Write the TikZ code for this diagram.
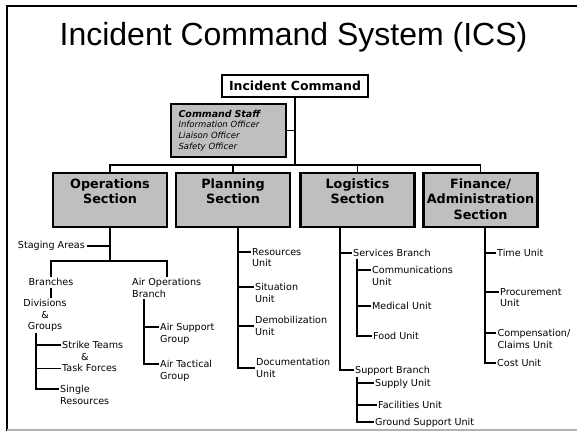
\documentclass[tikz,border=0pt]{standalone}
\usepackage{fontspec}
\setmainfont{Liberation Sans}
\newfontfamily\unitfont{DejaVu Sans}
\colorlet{stipple}{black!25}
\newcommand{\sectitle}[1]{\parbox[t][42pt][t]{108pt}{\centering #1}}

\begin{document}
\begin{tikzpicture}[x=1pt,y=-1pt,
  every node/.style={inner sep=1.5pt},
  heading/.style={font=\fontsize{32}{36}\selectfont},
  icbox/.style={draw,line width=1.4pt,fill=white,minimum width=146pt,minimum height=22pt,inner sep=0pt,
    font=\unitfont\bfseries\fontsize{12.5}{14}\selectfont},
  staffbox/.style={draw,line width=2.4pt,fill=stipple,text width=100pt,align=left,inner xsep=7.5pt,
    minimum height=53pt,font=\unitfont\itshape\fontsize{8.5}{10.7}\selectfont},
  secbox/.style={draw,line width=2.6pt,fill=stipple,inner xsep=3pt,inner ysep=6pt,
    font=\unitfont\bfseries\fontsize{12.8}{15.2}\selectfont},
  unitlabel/.style={font=\unitfont\fontsize{9.6}{11.5}\selectfont,align=left,anchor=north west},
  link/.style={line width=1.7pt}]
\useasboundingbox (0,0) rectangle (577,434);
\draw [line width=1.3pt] (577,6) -- (7,6) -- (7,431);
\draw [line width=1.3pt,black!30] (7,430) -- (577,430);

\node [heading,anchor=base] (title) at (293.5,45) {Incident Command System (ICS)};

\node [icbox] (ic) at (295,86) {Incident Command};
\node [staffbox] (staff) at (228.5,130.5) {{\bfseries\fontsize{9.5}{10.7}\selectfont Command Staff}\\Information Officer\\Liaison Officer\\Safety Officer};

\node [secbox] (ops) at (110,200) {\sectitle{Operations\\Section}};
\node [secbox] (plan) at (233,200) {\sectitle{Planning\\Section}};
\node [secbox] (log) at (357.5,200) {\sectitle{Logistics\\Section}};
\node [secbox] (fin) at (480.5,200) {\sectitle{Finance/\\Administration\\Section}};

\node [unitlabel,anchor=north east] (staging) at (86.5,239.7) {Staging Areas};
\node [unitlabel,anchor=north,align=center] (branches) at (51,276.7) {Branches};
\node [unitlabel,anchor=north,align=center] (divisions) at (45,297.7) {Divisions\\\&\\Groups};
\node [unitlabel] (strike) at (60.5,339.7) {Strike Teams\\\hspace*{19pt}\&\\Task Forces};
\node [unitlabel] (single) at (58.5,383.7) {Single\\Resources};
\node [unitlabel] (airops) at (130.5,276.7) {Air Operations\\Branch};
\node [unitlabel] (airsup) at (158.5,321.7) {Air Support\\Group};
\node [unitlabel] (airtac) at (158.5,358.7) {Air Tactical\\Group};

\node [unitlabel] (res) at (250.5,246.7) {Resources\\Unit};
\node [unitlabel] (sit) at (253.5,281.7) {Situation\\Unit};
\node [unitlabel] (demob) at (253.5,314.7) {Demobilization\\Unit};
\node [unitlabel] (doc) at (254.5,356.7) {Documentation\\Unit};

\node [unitlabel] (svc) at (351.5,247.7) {Services Branch};
\node [unitlabel] (comm) at (370.5,264.7) {Communications\\Unit};
\node [unitlabel] (med) at (370.5,300.7) {Medical Unit};
\node [unitlabel] (food) at (371.5,330.7) {Food Unit};
\node [unitlabel] (sup) at (353.5,364.7) {Support Branch};
\node [unitlabel] (supply) at (373.5,377.7) {Supply Unit};
\node [unitlabel] (fac) at (376.5,399.7) {Facilities Unit};
\node [unitlabel] (gnd) at (373.5,416.7) {Ground Support Unit};

\node [unitlabel] (time) at (495.5,247.7) {Time Unit};
\node [unitlabel] (proc) at (498.5,286.7) {Procurement\\Unit};
\node [unitlabel] (comp) at (496,327.7) {Compensation/\\Claims Unit};
\node [unitlabel] (cost) at (495.5,357.7) {Cost Unit};

\coordinate (bus) at (295,165);
\coordinate (opsT) at (ops.south);
\coordinate (opsfork) at ([yshift=-33pt]ops.south);
\coordinate (planT) at ([xshift=5pt]plan.south);
\coordinate (logT) at ([xshift=-17.5pt]log.south);
\coordinate (finT) at ([xshift=4.5pt]fin.south);
\coordinate (grpT) at ([xshift=14pt]divisions.south west);
\coordinate (airT) at ([xshift=13.5pt]airops.south west);
\coordinate (svcT) at ([xshift=5.5pt]svc.south west);
\coordinate (supT) at ([xshift=3.5pt]sup.south west);

\draw [link] (ic) -- (bus);
\draw [link] (staff.east) -- (staff.east -| bus);
\draw [link] (ops.north) |- (bus) -| (fin.north);
\draw [link] (plan.north) -- (plan.north |- bus);
\draw [link] (log.north) -- (log.north |- bus);

\draw [link] (opsT) -- (opsfork);
\draw [link] (staging.east) -- (staging.east -| opsfork);
\draw [link] (branches.north) |- (opsfork) -| (airops.north);
\draw [link] (branches.south) -- (branches.south |- divisions.north);
\draw [link] (grpT) |- ([yshift=-5.3pt]strike.north west);
\draw [link] (grpT) |- ([yshift=5pt]strike.south west);
\draw [link] (grpT) |- ([yshift=-5.3pt]single.north west);
\draw [link] (airT) |- ([yshift=-5.3pt]airsup.north west);
\draw [link] (airT) |- ([yshift=-5.3pt]airtac.north west);

\draw [link] (planT) |- ([yshift=-5.3pt]res.north west);
\draw [link] (planT) |- ([yshift=-5.3pt]sit.north west);
\draw [link] (planT) |- (demob.west);
\draw [link] (planT) |- (doc.west);

\draw [link] (logT) |- ([yshift=-5.3pt]svc.north west);
\draw [link] (logT) |- ([yshift=-5.3pt]sup.north west);
\draw [link] (svcT) |- ([yshift=-5.3pt]comm.north west);
\draw [link] (svcT) |- ([yshift=-5.3pt]med.north west);
\draw [link] (svcT) |- ([yshift=-5.3pt]food.north west);
\draw [link] (supT) |- ([yshift=-5.3pt]supply.north west);
\draw [link] (supT) |- ([yshift=-5.3pt]fac.north west);
\draw [link] (supT) |- ([yshift=-5.3pt]gnd.north west);

\draw [link] (finT) |- ([yshift=-5.3pt]time.north west);
\draw [link] (finT) |- ([yshift=-5.3pt]proc.north west);
\draw [link] (finT) |- ([yshift=-5.3pt]comp.north west);
\draw [link] (finT) |- ([yshift=-5.3pt]cost.north west);
\end{tikzpicture}
\end{document}
